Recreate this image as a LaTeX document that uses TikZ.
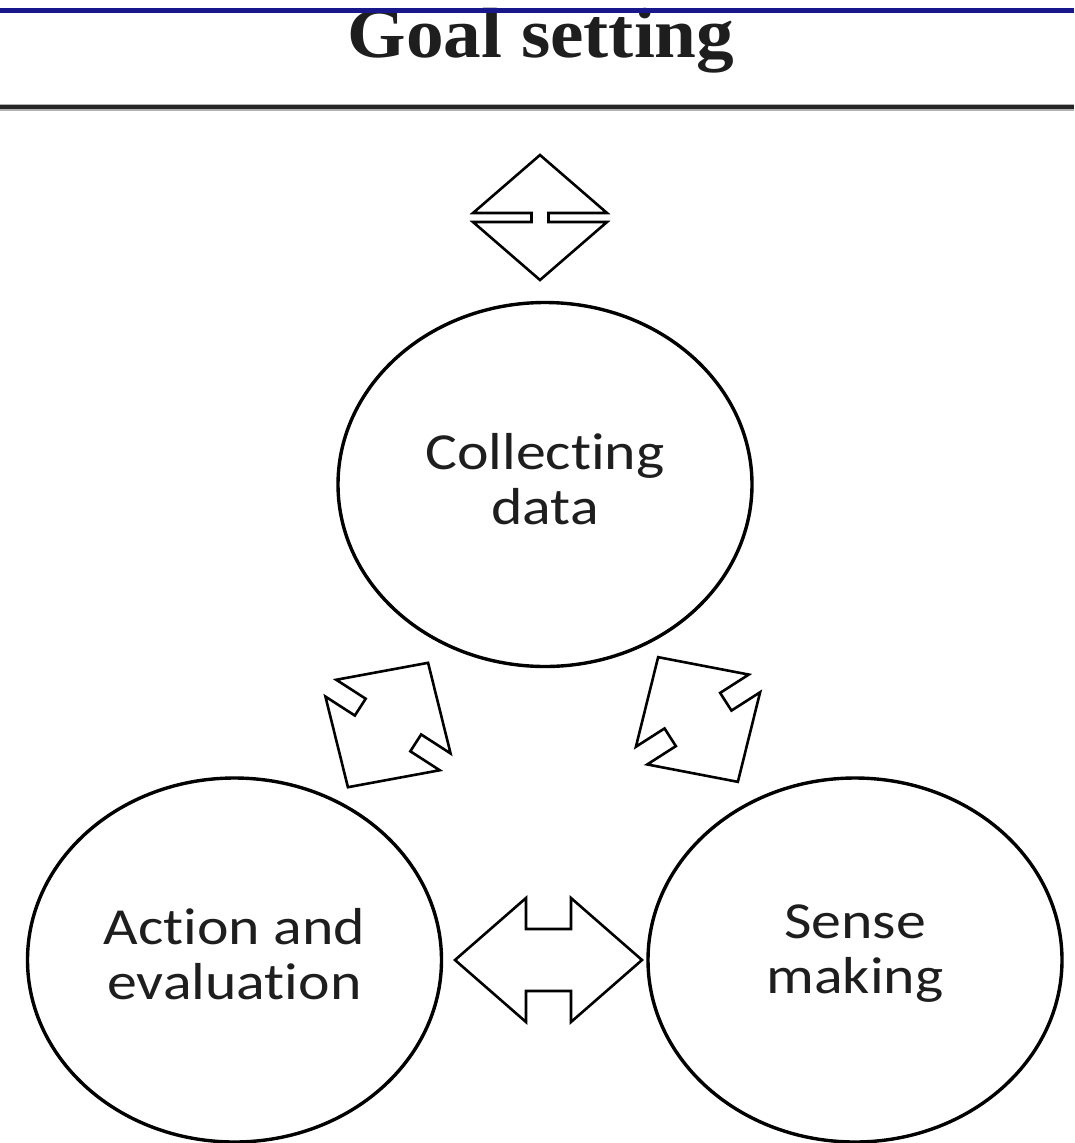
\documentclass[tikz,border=0pt]{standalone}
\usepackage{fontspec}
\usepackage{graphicx}
\setmainfont{Liberation Serif}
\newfontfamily\bodyfont[Ligatures={NoCommon}]{Carlito}
\usetikzlibrary{shapes.geometric}
\definecolor{navyline}{RGB}{24,24,140}
\definecolor{inkgray}{RGB}{30,30,30}
\newcommand\widetext[1]{\scalebox{1.15}[1]{#1}}
\tikzset{
  phase/.style={ellipse, draw=black, line width=3.4pt, minimum width=414pt, minimum height=364pt,
    inner sep=0pt},
  phasetext/.style={font=\bodyfont\fontsize{52}{55}\selectfont, text=inkgray, align=center, inner sep=0pt},
  blockarrow/.style={draw=black, line width=2.6pt, line join=miter, fill=white},
  rulebar/.style={line width=4.5pt},
}
% #1 centre, #2 angle, #3 half length, #4 half shaft length, #5 head half width, #6 shaft half width
\newcommand\DblArrow[6]{%
  \draw[blockarrow, shift={#1}, rotate=#2]
    (-#3,0) -- (-#4,#5) -- (-#4,#6) -- (#4,#6) -- (#4,#5) -- (#3,0)
    -- (#4,-#5) -- (#4,-#6) -- (-#4,-#6) -- (-#4,-#5) -- cycle;}
\begin{document}
\begin{tikzpicture}[x=1pt, y=-1pt]
  \useasboundingbox (0,0) rectangle (1074,1143);
  \fill[white] (0,0) rectangle (1074,1143);
  % header
  \node[font=\fontsize{71}{71}\selectfont\bfseries, anchor=base, text=inkgray, inner sep=0pt]
    (title) at (541,57) {\scalebox{1.06}[1]{Goal setting}};
  \draw[rulebar, navyline] (0,10.5) -- (1074,10.5);
  \draw[line width=7pt, black!30] (0,107) -- (1074,107);
  \draw[line width=4pt, black!85] (0,107) -- (1074,107);
  % goal-setting double arrow
  \DblArrow{(540,217.5)}{90}{62.5}{4.5}{67}{8.5}
  % phases
  \node[phase] (collect) at (545,484.5) {};
  \node[phase] (action) at (234.5,960) {};
  \node[phase] (sense) at (855,960) {};
  \node[phasetext] (collecttext) at ([yshift=5pt]collect.center) {\widetext{Collecting}\\\widetext{data}};
  \node[phasetext] (actiontext) at ([yshift=6pt]action.center) {\widetext{Action and}\\\widetext{evaluation}};
  \node[phasetext] (sensetext) at ([yshift=6pt]sense.center) {\widetext{Sense}\\\widetext{making}};
  % block arrows between phases
  \DblArrow{(388,725)}{57.2}{74}{10}{68}{33}
  \DblArrow{(698,719.5)}{-57.4}{74}{10.5}{67}{33}
  \DblArrow{(548.5,960)}{0}{93.5}{22.5}{62}{31}
\end{tikzpicture}
\end{document}
